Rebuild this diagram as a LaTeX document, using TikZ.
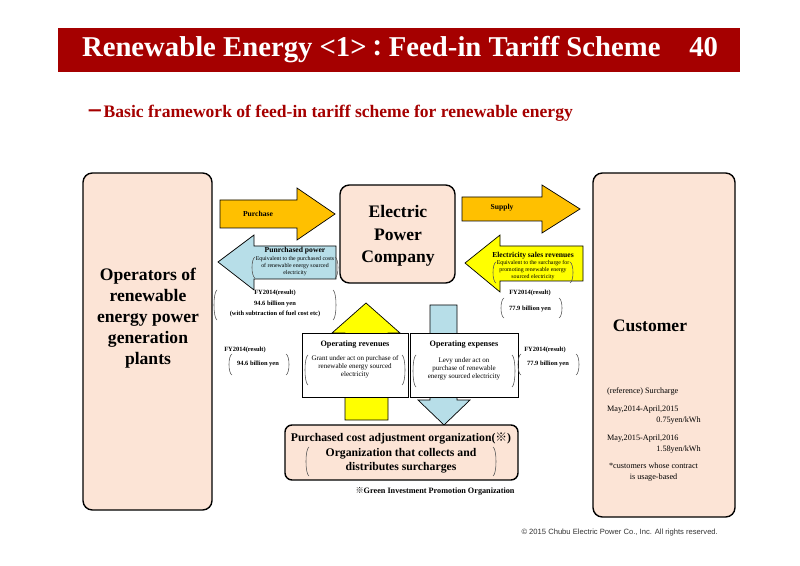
\documentclass[tikz,border=0pt]{standalone}
\usepackage{fontspec}
\setmainfont{Liberation Serif}
\setsansfont{Liberation Sans}
\newfontfamily\cjk{Noto Sans CJK JP}
\usepackage{tikz}

\definecolor{titlered}{HTML}{A50000}
\definecolor{peach}{HTML}{FCE4D6}
\definecolor{arrorange}{HTML}{FFC000}
\definecolor{arrblue}{HTML}{B7DEE8}
\definecolor{arryellow}{HTML}{FFFF00}

\tikzset{
  panel/.style={draw, line width=1.2pt, rounded corners=8pt, fill=peach},
  fatarrow/.style={draw, line width=0.6pt},
  tiny/.style={font=\fontsize{5.5}{6.5}\selectfont, align=center},
  note/.style={font=\fontsize{7}{9}\selectfont, align=left},
  small/.style={font=\fontsize{6.5}{7.5}\selectfont\bfseries, align=center},
  brk/.style={draw=gray!70!black, line width=0.5pt}
}
% parentheses pair around a block of text
\newcommand{\parens}[4]{%
  \draw[brk] (#1+4,#2) .. controls (#1,#2+2) and (#1,#4-2) .. (#1+4,#4);
  \draw[brk] (#3-4,#2) .. controls (#3,#2+2) and (#3,#4-2) .. (#3-4,#4);}
\newcommand{\kome}{{\cjk ※}}

\begin{document}
\begin{tikzpicture}[x=0.03cm,y=-0.03cm]
  \useasboundingbox (0,0) rectangle (800,566);
  % title
  \fill[titlered] (58,28) rectangle (740,72);
  \node[text=white, font=\fontsize{24.5}{28}\selectfont\bfseries] (title) at (400,50)
    {Renewable Energy <1>{\cjk\fontsize{19}{24}\selectfont ：}Feed-in Tariff Scheme\quad 40};
  \node[anchor=west, text=titlered, font=\fontsize{15}{17}\selectfont\bfseries] (sub) at (82,113)
    {{\cjk －}Basic framework of feed-in tariff scheme for renewable energy};

  % main boxes
  \draw[panel] (83,173) rectangle (212,510);
  \node[font=\fontsize{15}{18}\selectfont\bfseries, align=center] (ops) at (148,318)
    {Operators of\\renewable\\energy power\\generation\\plants};
  \draw[panel] (593,173) rectangle (735,517);
  \node[font=\fontsize{15}{18}\selectfont\bfseries] (cust) at (650,326) {Customer};
  \node[anchor=west, note] (note1) at (603,391) {(reference) Surcharge};
  \node[anchor=west, note] (note2) at (603,415) {May,2014-April,2015\\\hspace*{42pt}0.75yen/kWh};
  \node[anchor=west, note] (note3) at (603,444) {May,2015-April,2016\\\hspace*{42pt}1.58yen/kWh};
  \node[anchor=west, note, align=center] (note4) at (605,472) {*customers whose contract\\is usage-based};

  \draw[panel] (340,185) rectangle (455,283);
  \node[font=\fontsize{15}{19}\selectfont\bfseries, align=center] (epc) at (398,236)
    {Electric\\Power\\Company};

  % horizontal arrows
  \draw[fatarrow, fill=arrorange] (220,200) -- (297,200) -- (297,188) -- (335,214)
    -- (297,240) -- (297,228) -- (220,228) -- cycle;
  \node[small] (buy) at (258,214) {Purchase};
  \draw[fatarrow, fill=arrorange] (462,197) -- (542,197) -- (542,185) -- (580,209)
    -- (542,233) -- (542,221) -- (462,221) -- cycle;
  \node[small] (sup) at (502,208) {Supply};
  \draw[fatarrow, fill=arrblue] (336,246) -- (254,246) -- (254,235) -- (218,262)
    -- (254,290) -- (254,279) -- (336,279) -- cycle;
  \node[small] (pp) at (295,251) {Punrchased power};
  \node[tiny, font=\fontsize{5}{6}\selectfont] (ppd) at (295,266) {Equivalent to the purchased costs\\of renewable energy sourced\\electricity};
  \parens{251}{257}{339}{278}
  \draw[fatarrow, fill=arryellow] (583,246) -- (500,246) -- (500,235) -- (465,263)
    -- (500,292) -- (500,281) -- (583,281) -- cycle;
  \node[small] (esr) at (533,256) {Electricity sales revenues};
  \node[tiny, font=\fontsize{5}{6}\selectfont] (esrd) at (533,270) {Equivalent to the surcharge for\\promoting renewable energy\\sourced electricity};
  \parens{492}{262}{574}{283}

  % amounts
  \node[tiny, font=\fontsize{5.5}{6.5}\selectfont\bfseries] (fy1) at (275,293) {FY2014(result)};
  \node[tiny, font=\fontsize{5.5}{8}\selectfont\bfseries] (am1) at (275,309) {94.6 billion yen\\(with subtraction of fuel cost etc)};
  \parens{213}{290}{337}{320}
  \node[tiny, font=\fontsize{5.5}{6.5}\selectfont\bfseries] (fy2) at (530,293) {FY2014(result)};
  \node[tiny, font=\fontsize{5.5}{6.5}\selectfont\bfseries] (am2) at (530,309) {77.9 billion yen};
  \parens{500}{298}{563}{318}

  % vertical arrows
  \draw[fatarrow, fill=arryellow] (345,420) -- (345,333) -- (332,333) -- (366,303)
    -- (400,333) -- (388,333) -- (388,420) -- cycle;
  \draw[fatarrow, fill=arrblue] (430,305) -- (457,305) -- (457,400) -- (470,400)
    -- (444,425) -- (418,400) -- (430,400) -- cycle;

  % operating boxes
  \draw[line width=0.8pt, fill=white] (302,333) rectangle (408,397);
  \node[font=\fontsize{7}{8}\selectfont\bfseries] (orev) at (355,345) {Operating revenues};
  \node[tiny, font=\fontsize{6}{7}\selectfont] (orevd) at (355,367) {Grant under act on purchase of\\renewable energy sourced\\electricity};
  \parens{304}{355}{406}{385}
  \draw[line width=0.8pt, fill=white] (410,333) rectangle (518,397);
  \node[font=\fontsize{7}{8}\selectfont\bfseries] (oexp) at (464,345) {Operating expenses};
  \node[tiny, font=\fontsize{6}{7}\selectfont] (oexpd) at (464,369) {Levy under act on\\purchase of renewable\\energy sourced electricity};
  \parens{412}{355}{516}{387}
  \node[tiny, font=\fontsize{5.5}{6.5}\selectfont\bfseries] (fy3) at (245,350) {FY2014(result)};
  \node[tiny, font=\fontsize{5.5}{6.5}\selectfont\bfseries] (am3) at (258,364) {94.6 billion yen};
  \parens{228}{354}{290}{375}
  \node[tiny, font=\fontsize{5.5}{6.5}\selectfont\bfseries] (fy4) at (545,350) {FY2014(result)};
  \node[tiny, font=\fontsize{5.5}{6.5}\selectfont\bfseries] (am4) at (548,364) {77.9 billion yen};
  \parens{517}{354}{580}{375}

  % organization
  \draw[panel, rounded corners=6pt] (285,425) rectangle (518,480);
  \node[font=\fontsize{10}{11}\selectfont\bfseries] (org) at (401,438) {Purchased cost adjustment organization(\kome)};
  \node[font=\fontsize{10}{12}\selectfont\bfseries, align=center] (orgd) at (401,461) {Organization that collects and\\distributes surcharges};
  \parens{305}{447}{497}{476}
  \node[font=\fontsize{7}{8}\selectfont\bfseries] (gipo) at (435,491) {\kome Green Investment Promotion Organization};

  \node[anchor=east, font=\sffamily\fontsize{6.5}{8}\selectfont, text=black!80] (copy) at (722,533)
    {© 2015 Chubu Electric Power Co., Inc. All rights reserved.};
\end{tikzpicture}
\end{document}
